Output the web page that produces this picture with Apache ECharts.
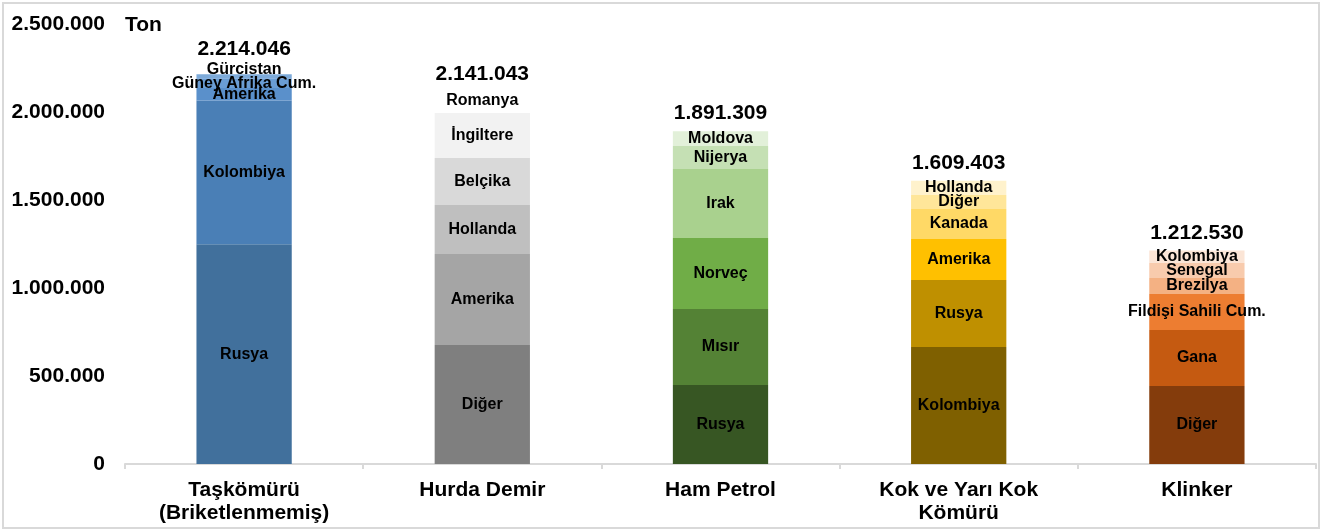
<!DOCTYPE html>
<html lang="tr">
<head>
<meta charset="UTF-8">
<title>Ürün bazında ithalat</title>
<script src="https://cdn.jsdelivr.net/npm/echarts@6/dist/echarts.min.js"></script>
<style>
  html, body { margin: 0; padding: 0; background: #fff; }
  #main { width: 1328px; height: 531px; }
</style>
</head>
<body>
<div id="main"></div>
<script>
// kategoriler ve toplamlar
const categories = ['Taşkömürü\n(Briketlenmemiş)', 'Hurda Demir', 'Ham Petrol', 'Kok ve Yarı Kok\nKömürü', 'Klinker']
const totals = [2214046, 2141043, 1891309, 1609403, 1212530]

// her ürün için ülke kırılımı (alttan üste)
const tasNames = ['Rusya', 'Kolombiya', 'Amerika', 'Güney Afrika Cum.', 'Gürcistan']
const tasValues = [1248000, 818000, 70000, 56000, 22046]
const hurdaNames = ['Diğer', 'Amerika', 'Hollanda', 'Belçika', 'İngiltere', 'Romanya']
const hurdaValues = [676000, 517000, 278000, 267000, 256000, 147043]
const petrolNames = ['Rusya', 'Mısır', 'Norveç', 'Irak', 'Nijerya', 'Moldova']
const petrolValues = [449000, 432000, 403000, 392000, 131000, 84309]
const kokNames = ['Kolombiya', 'Rusya', 'Amerika', 'Kanada', 'Diğer', 'Hollanda']
const kokValues = [665000, 381000, 233000, 170000, 80000, 80403]
const klinkerNames = ['Diğer', 'Gana', 'Fildişi Sahili Cum.', 'Brezilya', 'Senegal', 'Kolombiya']
const klinkerValues = [443000, 318000, 205000, 91000, 85000, 70530]

const yTicks = [0, 500000, 1000000, 1500000, 2000000, 2500000]

// renkler (stil)
const palettes = [
  ['#41709c', '#4a7fb6', '#5a90cb', '#6a9dd4', '#7daad9'],
  ['#7f7f7f', '#a5a5a5', '#bfbfbf', '#d9d9d9', '#f2f2f2', '#ffffff'],
  ['#375623', '#548235', '#70ad47', '#a9d18e', '#c5e0b4', '#e2f0d9'],
  ['#7f6000', '#bf9000', '#ffc000', '#ffd966', '#ffe699', '#fff2cc'],
  ['#843c0c', '#c55a11', '#ed7d31', '#f4b183', '#f8cbad', '#fbe5d6']
]
// küçük etiket kaydırmaları
const labelShift = { '0-4': [0, -7] }
const totalShift = [[0, -8], [0, 5], [0, 0], [0, 0], [0, 0]]

const groups = [
  [tasNames, tasValues],
  [hurdaNames, hurdaValues],
  [petrolNames, petrolValues],
  [kokNames, kokValues],
  [klinkerNames, klinkerValues]
]

function fmt(v) {
  return String(v).replace(/\B(?=(\d{3})+(?!\d))/g, '.')
}

const series = []
for (let j = 0; j < 6; j++) {
  const data = groups.map(function (g, i) {
    if (j >= g[1].length) return '-'
    const item = {
      value: g[1][j],
      country: g[0][j],
      itemStyle: { color: palettes[i][j] }
    }
    if (labelShift[i + '-' + j]) item.label = { offset: labelShift[i + '-' + j] }
    return item
  })
  series.push({
    type: 'bar',
    stack: 'total',
    barWidth: '40%',
    data: data,
    label: {
      show: true,
      position: 'inside',
      color: '#000',
      fontFamily: 'Liberation Sans',
      fontWeight: 'bold',
      fontSize: 16,
      formatter: function (p) { return p.data.country }
    }
  })
}
// toplam etiketi
series.push({
  type: 'bar',
  stack: 'total',
  barWidth: '40%',
  itemStyle: { color: 'rgba(0,0,0,0)' },
  data: totals.map(function (t, i) {
    return { value: 0, total: t, label: { offset: totalShift[i] } }
  }),
  label: {
    show: true,
    position: 'top',
    distance: 7,
    color: '#000',
    fontFamily: 'Liberation Sans',
    fontWeight: 'bold',
    fontSize: 21,
    formatter: function (p) { return fmt(p.data.total) }
  }
})

const myChart = echarts.init(document.getElementById('main'))
myChart.setOption({
  animation: false,
  grid: { left: 125, right: 12, top: 24, bottom: 67 },
  graphic: [
    {
      type: 'rect',
      shape: { x: 3, y: 3, width: 1316, height: 525 },
      style: { fill: 'none', stroke: '#d9d9d9', lineWidth: 2 },
      silent: true
    },
    {
      type: 'text',
      left: 125,
      top: 15,
      style: { text: 'Ton', fill: '#000', font: 'bold 21px "Liberation Sans"' }
    }
  ],
  xAxis: {
    type: 'category',
    data: categories,
    axisLine: { lineStyle: { color: '#d9d9d9', width: 2 } },
    axisTick: { show: true, length: 5, lineStyle: { color: '#d9d9d9', width: 2 } },
    axisLabel: {
      color: '#000',
      fontFamily: 'Liberation Sans',
      fontWeight: 'bold',
      fontSize: 21,
      lineHeight: 23,
      margin: 15,
      interval: 0
    }
  },
  yAxis: {
    type: 'value',
    min: yTicks[0],
    max: yTicks[yTicks.length - 1],
    interval: yTicks[1] - yTicks[0],
    axisLine: { show: false },
    axisTick: { show: false },
    splitLine: { show: false },
    axisLabel: {
      color: '#000',
      fontFamily: 'Liberation Sans',
      fontWeight: 'bold',
      fontSize: 21,
      margin: 20,
      formatter: function (v) { return fmt(v) }
    }
  },
  series: series
})
</script>
</body>
</html>
